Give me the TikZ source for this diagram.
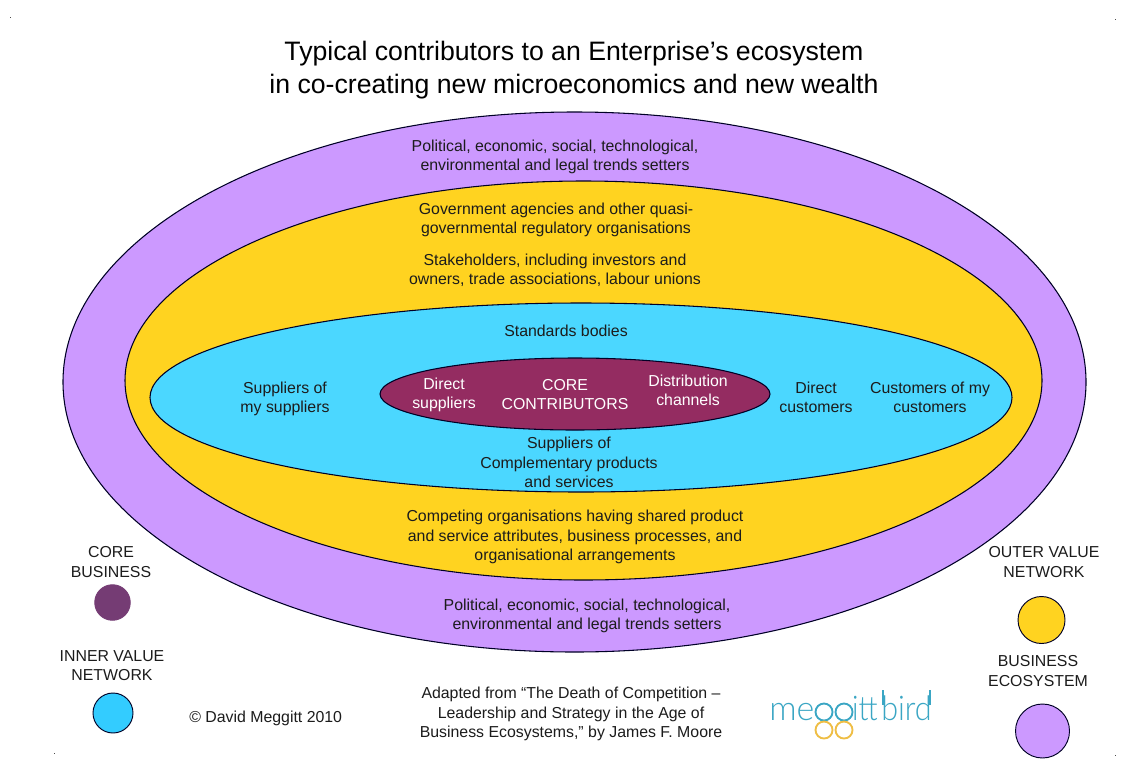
\documentclass[tikz,border=0pt]{standalone}
\usepackage{fontspec}
\setmainfont{Liberation Sans}
\newfontfamily\logofont{Lato Light}
\definecolor{purp}{HTML}{CC99FF}
\definecolor{yel}{HTML}{FFD320}
\definecolor{cya}{HTML}{4BD7FF}
\definecolor{cor}{HTML}{942C61}
\definecolor{legcore}{HTML}{753C74}
\definecolor{legcya}{HTML}{33CCFF}
\definecolor{txt}{HTML}{1C1C1C}
\definecolor{logob}{HTML}{3AA6C4}
\definecolor{logoy}{HTML}{EFBE45}
\tikzset{
  x=0.75pt,y=-0.75pt,
  ring/.style={draw=black!85!blue,line width=0.8pt},
  lab/.style={align=center,text=txt,font=\fontsize{11.9pt}{14.4pt}\selectfont,inner sep=0pt},
  wlab/.style={lab,text=white},
  ttl/.style={align=center,text=black,font=\fontsize{20pt}{24.6pt}\selectfont,inner sep=0pt},
  legdot/.style={circle,draw=black!85!blue,line width=0.7pt,inner sep=0pt,minimum size=#1*0.75pt},
  logog/.style={draw=logob,line width=1.4pt},
  logoyl/.style={draw=logoy,line width=1.4pt},
  logot/.style={text=logob,inner sep=0pt,font=\fontsize{25.5pt}{27pt}\logofont},
  speck/.style={draw=black!70,line width=0.4pt}
}
\begin{document}
\begin{tikzpicture}
\useasboundingbox (0,0) rectangle (1126,771);
\fill[white] (0,0) rectangle (1126,771);
\node[ttl] (title) at (574,70.5) {Typical contributors to an Enterprise’s ecosystem\\in co-creating new microeconomics and new wealth};
\draw[ring,fill=purp] (574.5,382) ellipse [x radius=511.5,y radius=270];
\draw[ring,fill=yel] (583.5,380.5) ellipse [x radius=458.5,y radius=199.5];
\draw[ring,fill=cya] (581,397.5) ellipse [x radius=431,y radius=94.5];
\draw[ring,fill=cor] (575,394) ellipse [x radius=195,y radius=36];
\node[lab] (n1) at (555,156.5) {Political, economic, social, technological,\\environmental and legal trends setters};
\node[lab] (n2) at (556,219.5) {Government agencies and other quasi-\\governmental regulatory organisations};
\node[lab] (n3) at (555,270.5) {Stakeholders, including investors and\\owners, trade associations, labour unions};
\node[lab] (n4) at (566,330.5) {Standards bodies};
\node[lab] (n5) at (285,398.5) {Suppliers of\\my suppliers};
\node[wlab] (n6) at (444,394.5) {Direct\\suppliers};
\node[wlab] (n7) at (565,394.5) {CORE\\CONTRIBUTORS};
\node[wlab] (n8) at (688,390.5) {Distribution\\channels};
\node[lab] (n9) at (816,397) {Direct\\customers};
\node[lab] (n10) at (930,397) {Customers of my\\customers};
\node[lab] (n11) at (569,462.5) {Suppliers of\\Complementary products\\and services};
\node[lab] (n12) at (575,537) {Competing organisations having shared product\\and service attributes, business processes, and\\organisational arrangements};
\node[lab] (n13) at (587,616) {Political, economic, social, technological,\\environmental and legal trends setters};
\node[lab] (l1) at (111,562) {CORE\\BUSINESS};
\node[legdot=35.5,draw=legcore,fill=legcore] (d1) at (112.5,602.5) {};
\node[lab] (l2) at (112,666) {INNER VALUE\\NETWORK};
\node[legdot=40,fill=legcya] (d2) at (113,713) {};
\node[lab] (l3) at (1044,562) {OUTER VALUE\\NETWORK};
\node[legdot=47,fill=yel] (d3) at (1041.5,620) {};
\node[lab] (l4) at (1038,671) {BUSINESS\\ECOSYSTEM};
\node[legdot=54,fill=purp] (d4) at (1042.5,731) {};
\node[lab,anchor=west] (c) at (189,718.5) {© David Meggitt 2010};
\node[lab] (a) at (571,714) {Adapted from “The Death of Competition –\\Leadership and Strategy in the Age of\\Business Ecosystems,” by James F. Moore};
% logo
\node[logot,anchor=base west] (lm) at (769,720) {me};
\draw[logog] (824,712) circle [radius=8.5];
\draw[logog] (844,712) circle [radius=8.5];
\draw[logoyl] (824,730) circle [radius=8.5];
\draw[logoyl] (844,730) circle [radius=8.5];
\node[logot,anchor=base west,xscale=0.85] (li) at (852,720) {itt};
\node[logot,anchor=base west,xscale=0.9] (lb) at (881,720) {bird};
\draw[logog] (883,690) -- (883,705);
\draw[logog] (930,690) -- (930,705);
% specks
\draw[speck] (10,17) -- (11,17);
\draw[speck] (1115,19) -- (1116,19);
\draw[speck] (54,753) -- (55,753);
\draw[speck] (1115,755) -- (1116,755);
\end{tikzpicture}
\end{document}
